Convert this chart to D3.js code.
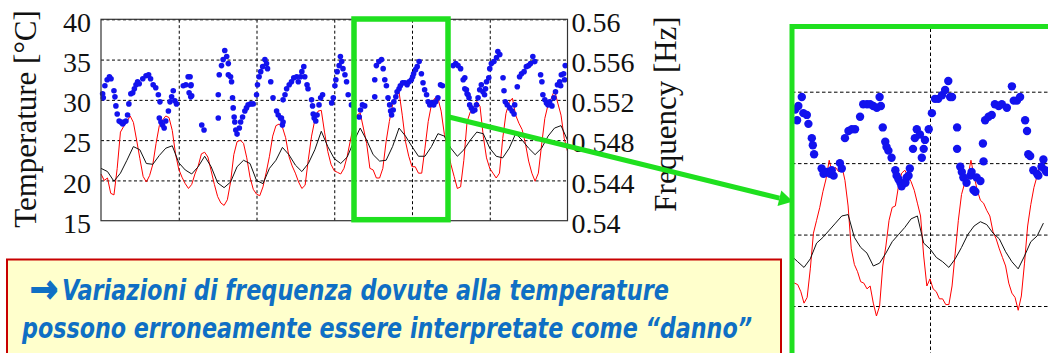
<!DOCTYPE html>
<html><head><meta charset="utf-8">
<script src="https://cdn.jsdelivr.net/npm/d3@7"></script>
<style>html,body{margin:0;padding:0;background:#fff;overflow:hidden}</style>
</head><body>
<svg id="c" width="1048" height="353"></svg>
<script>
// ---------- DATA (time in hours, 6 days shown) ----------
const dayTicks = [24, 48, 72, 96, 120];
const tempTicks = [15, 20, 25, 30, 35, 40];
const tempTickLabels = ["15", "20", "25", "30", "35", "40"];
const freqTicks = [0.54, 0.544, 0.548, 0.552, 0.556, 0.56];
const freqTickLabels = ["0.54", "0.544", "0.548", "0.552", "0.556", "0.56"];

// red: air temperature, one reading per hour from h=0
const redTemp = [
 20.8,20.0,20.3,18.4,18.2,21.5,26.0,26.7,27.3,28.0,
 27.2,25.0,22.7,20.5,19.8,20.6,22.0,24.6,26.8,27.5,
 28.0,27.8,26.2,23.3,21.4,20.4,19.6,19.0,19.5,20.8,
 21.8,23.3,23.5,22.9,21.2,19.5,18.0,17.2,16.9,17.6,
 19.8,23.2,24.8,25.0,24.6,22.8,20.4,18.9,18.3,18.1,
 19.2,21.0,23.0,25.5,26.8,27.0,26.6,25.3,23.0,21.8,
 20.9,19.8,19.0,19.4,22.6,25.5,27.5,28.6,28.7,26.0,
 23.6,22.0,21.2,21.0,20.8,21.5,23.0,25.0,26.9,28.1,
 28.4,26.5,24.6,21.5,21.3,20.3,20.3,21.5,24.8,27.3,
 29.4,30.4,31.0,28.1,24.8,23.0,21.7,21.7,20.9,20.9,
 24.0,27.3,29.4,30.2,30.2,28.6,25.7,24.0,22.0,20.5,
 19.0,19.2,22.5,27.3,28.5,29.0,29.8,29.2,25.5,22.8,
 21.5,20.9,20.3,20.9,25.2,28.3,29.7,30.2,28.1,27.1,
 26.3,24.6,22.4,20.9,19.9,20.9,24.4,27.7,29.4,30.2,
 31.2,29.6,28.1,25.2,23.6
];
// black: structure temperature, one reading every 2 hours from h=0
const blackTemp = [
 21.5,21.1,19.9,20.9,22.5,24.2,23.8,22.1,22.0,23.1,
 24.0,24.3,22.2,21.3,20.8,21.7,23.0,21.7,19.7,19.1,
 19.8,21.7,22.5,22.1,20.0,19.6,21.5,22.5,24.1,23.2,
 21.9,21.1,22.1,23.8,26.1,24.2,22.7,22.1,22.9,24.8,
 26.5,25.0,23.2,22.4,22.5,24.2,26.5,25.5,24.2,23.0,
 23.0,24.2,25.8,25.5,24.0,23.0,23.8,25.0,26.0,25.8,
 24.0,23.0,22.8,24.0,25.8,25.0,24.0,23.2,24.0,25.5,
 26.5,26.8,25.0
];
// blue: identified frequency [hour, Hz]
const freqPoints = [
 [0.5,0.5526],[0.7,0.5522],[1.2,0.5534],[1.9,0.5540],[2.6,0.5543],[3.1,0.5541],[4.0,0.5529],[4.3,0.5523],
 [4.6,0.5514],[5.0,0.5506],[5.6,0.5499],[6.1,0.5498],[6.7,0.5496],[7.1,0.5498],[7.7,0.5499],[8.2,0.5505],
 [8.6,0.5516],[9.2,0.5526],[9.8,0.5527],[10.3,0.5531],[10.8,0.5535],[11.3,0.5538],[11.8,0.5536],[12.9,0.5541],
 [13.9,0.5544],[14.7,0.5545],[15.3,0.5541],[16.1,0.5535],[16.9,0.5532],[17.7,0.5525],[18.2,0.5518],[18.0,0.5502],
 [18.5,0.5498],[19.0,0.5495],[19.5,0.5492],[20.0,0.5499],[20.8,0.5509],[21.3,0.5518],[21.8,0.5523],[22.3,0.5529],
 [22.8,0.5519],[23.3,0.5516],[25.4,0.5534],[26.2,0.5535],[26.9,0.5543],[27.7,0.5534],[27.2,0.5527],[28.0,0.5524],
 [27.5,0.5543],[27.8,0.5535],[27.7,0.5523],[31.1,0.5495],[31.8,0.5490],[36.2,0.5525],[36.2,0.5502],[36.5,0.5545],
 [37.2,0.5554],[37.7,0.5560],[38.2,0.5569],[38.8,0.5563],[39.3,0.5556],[39.3,0.5545],[40.0,0.5543],[40.3,0.5538],
 [40.6,0.5522],[40.8,0.5512],[41.1,0.5503],[41.3,0.5498],[41.6,0.5490],[42.0,0.5486],[42.7,0.5492],[43.1,0.5498],
 [43.7,0.5503],[44.4,0.5509],[44.9,0.5512],[45.4,0.5515],[46.2,0.5516],[47.0,0.5516],[48.0,0.5525],[48.3,0.5535],
 [48.8,0.5543],[49.3,0.5548],[49.9,0.5553],[50.6,0.5560],[51.1,0.5556],[51.4,0.5551],[52.4,0.5538],[53.1,0.5522],
 [54.2,0.5509],[54.7,0.5505],[55.4,0.5502],[56.2,0.5498],[55.7,0.5502],[56.0,0.5495],[56.2,0.5520],[56.8,0.5525],
 [57.3,0.5531],[58.1,0.5535],[58.8,0.5538],[59.5,0.5542],[60.4,0.5543],[60.9,0.5538],[61.6,0.5543],[62.0,0.5548],
 [62.6,0.5553],[62.9,0.5543],[63.6,0.5535],[63.9,0.5531],[65.0,0.5520],[65.3,0.5514],[65.5,0.5506],[65.8,0.5502],
 [66.3,0.5499],[66.7,0.5505],[67.3,0.5515],[67.8,0.5522],[68.4,0.5525],[71.2,0.5517],[71.7,0.5522],[72.2,0.5534],
 [72.5,0.5540],[72.9,0.5548],[73.5,0.5554],[73.9,0.5563],[74.3,0.5558],[74.7,0.5551],[75.3,0.5545],[75.8,0.5538],
 [76.3,0.5525],[77.3,0.5515],[79.7,0.5503],[80.1,0.5510],[80.7,0.5515],[81.4,0.5514],[84.5,0.5540],[85.0,0.5554],
 [85.8,0.5558],[86.6,0.5560],[87.1,0.5551],[84.5,0.5523],[87.6,0.5540],[88.1,0.5534],[88.6,0.5522],[89.1,0.5515],
 [89.4,0.5509],[89.7,0.5505],[90.2,0.5510],[90.4,0.5518],[91.0,0.5523],[91.4,0.5528],[92.0,0.5531],[92.4,0.5534],
 [93.1,0.5537],[93.8,0.5537],[94.5,0.5535],[95.1,0.5538],[95.8,0.5540],[96.2,0.5543],[96.5,0.5546],[97.1,0.5550],
 [97.6,0.5553],[98.2,0.5558],[98.9,0.5546],[99.4,0.5537],[99.9,0.5530],[100.5,0.5525],[101.0,0.5518],[101.5,0.5515],
 [102.0,0.5517],[102.7,0.5515],[103.3,0.5518],[104.0,0.5522],[104.8,0.5535],[105.4,0.5534],[108.7,0.5554],[109.5,0.5556],
 [110.2,0.5554],[111.0,0.5551],[111.8,0.5540],[112.3,0.5531],[113.0,0.5526],[113.6,0.5522],[112.3,0.5542],[112.8,0.5530],
 [113.3,0.5525],[113.8,0.5515],[114.3,0.5512],[114.8,0.5509],[115.4,0.5510],[115.9,0.5515],[116.4,0.5522],[116.9,0.5530],
 [117.4,0.5535],[117.9,0.5528],[118.4,0.5525],[118.7,0.5531],[119.0,0.5538],[119.7,0.5542],[120.0,0.5551],[120.5,0.5556],
 [121.3,0.5558],[122.1,0.5562],[122.5,0.5568],[123.1,0.5565],[124.1,0.5542],[124.4,0.5529],[124.8,0.5518],[125.4,0.5515],
 [126.2,0.5512],[126.9,0.5509],[127.5,0.5506],[127.7,0.5515],[128.5,0.5533],[129.2,0.5543],[129.8,0.5546],[130.6,0.5548],
 [131.3,0.5553],[132.0,0.5554],[132.6,0.5556],[133.3,0.5563],[133.9,0.5558],[135.7,0.5545],[136.1,0.5538],[136.4,0.5525],
 [137.0,0.5520],[137.5,0.5517],[138.0,0.5515],[138.5,0.5518],[139.2,0.5514],[139.8,0.5522],[140.3,0.5528],[140.9,0.5535],
 [141.6,0.5538],[142.1,0.5545],[142.8,0.5546],[143.3,0.5554],[143.1,0.5540],[141.9,0.5534]
];

// inset (magnified detail, hours 74 - 114.5)
const insetRedStart = 74, insetRedStep = 0.5;
const insetRedTemp = [
 21.6,21.6,21.5,21.0,20.2,20.6,22.6,25.1,26.0,26.9,
 28.0,28.9,30.2,29.3,29.7,29.4,29.8,28.8,27.0,24.0,
 22.9,22.4,21.7,21.6,21.2,21.4,20.2,19.3,20.0,22.8,
 24.2,26.0,26.9,27.0,28.4,29.3,29.5,29.1,28.7,28.1,
 27.2,26.3,23.5,21.4,21.9,21.2,21.0,20.5,20.5,20.1,
 20.1,21.4,23.7,26.0,27.8,28.6,29.0,30.2,29.1,28.1,
 27.4,27.2,26.7,26.3,25.2,24.7,24.0,23.4,22.8,21.6,
 20.9,20.6,19.7,20.7,23.0,25.6,27.1,28.3,29.1,30.0,
 29.8,29.7
];
const insetBlackStart = 74, insetBlackStep = 1;
const insetBlackTemp = [
 23.5,23.1,22.7,23.3,24.4,24.8,25.3,25.8,26.3,26.4,
 24.8,24.1,23.7,22.8,23.0,23.7,24.5,25.0,25.5,26.1,
 26.3,24.4,24.0,23.4,23.1,22.7,23.3,24.1,25.0,25.6,
 25.9,25.7,25.1,24.7,23.8,23.1,22.6,23.5,24.5,24.9,
 25.8
];
const insetFreqPoints = [
 [74.6,0.5550],[74.9,0.5544],[75.1,0.5552],[75.65,0.5557],[75.9,0.5548],[76.45,0.5547],[76.7,0.5542],[77.24,0.5534],
 [77.4,0.5530],[77.6,0.5525],[78.8,0.5517],[79.1,0.5514],[79.6,0.5515],[80.15,0.5514],[80.7,0.5513],[80.4,0.5516],
 [81.7,0.5520],[82.0,0.5517],[82.5,0.5534],[83.06,0.5538],[83.6,0.5539],[84.1,0.5539],[84.9,0.5546],[85.4,0.5553],
 [86.0,0.5553],[86.5,0.5553],[87.0,0.5552],[87.56,0.5551],[88.0,0.5557],[88.2,0.5552],[88.5,0.5540],[88.9,0.5532],
 [89.1,0.5529],[89.4,0.5527],[89.9,0.5523],[90.5,0.5516],[90.7,0.5513],[91.0,0.5511],[91.3,0.5509],[91.5,0.5507],
 [92.1,0.5509],[92.3,0.5512],[92.6,0.5513],[92.8,0.5517],[93.3,0.5528],[93.6,0.5534],[93.9,0.5539],[94.4,0.5536],
 [94.7,0.5523],[95.0,0.5528],[95.2,0.5533],[95.8,0.5539],[96.3,0.5548],[96.8,0.5556],[97.3,0.5556],[97.9,0.5558],
 [98.4,0.5561],[98.9,0.5566],[99.2,0.5557],[99.5,0.5557],[100.3,0.5540],[100.3,0.5528],[100.8,0.5518],[101.05,0.5515],
 [101.3,0.5512],[101.8,0.5509],[102.4,0.5513],[102.6,0.5515],[102.9,0.5505],[103.2,0.5504],[103.4,0.5512],[104.0,0.5510],
 [104.4,0.5531],[104.5,0.5521],[104.75,0.5544],[105.3,0.5546],[105.8,0.5547],[106.3,0.5553],[106.9,0.5552],[107.4,0.5553],
 [108.2,0.5551],[109.0,0.5563],[109.3,0.5555],[109.8,0.5555],[110.3,0.5557],[111.1,0.5544],[111.4,0.5538],[111.6,0.5525],
 [111.9,0.5524],[112.4,0.5516],[113.0,0.5514],[113.2,0.5513],[113.7,0.5518],[114.0,0.5522],[114.3,0.5516],[114.5,0.5515]
];
const insetGridTemps = [20, 25, 30, 35];
const insetGridHours = [96];
const noteLine1 = "Variazioni di frequenza dovute alla temperature";
const noteLine2 = "possono erroneamente essere interpretate come \u201Cdanno\u201D";

// ---------- DRAWING ----------
const svg = d3.select("#c");
const GREEN = "#1fe01f", RED = "#ff0000", BLUE = "#1212ee";
const X0 = 101, X1 = 567.5, YT = 19.3, YB = 220.7;
const x = d3.scaleLinear().domain([0, 144]).range([X0, X1]);
const yT = d3.scaleLinear().domain([15, 40]).range([YB, YT]);
const yF = d3.scaleLinear().domain([0.54, 0.56]).range([YB, YT]);

// grid
const gx = svg.append("g").attr("transform", `translate(0,${YB})`)
  .call(d3.axisBottom(x).tickValues(dayTicks).tickSize(-(YB - YT)).tickFormat(""));
const gy = svg.append("g").attr("transform", `translate(${X0},0)`)
  .call(d3.axisLeft(yT).tickValues(tempTicks.slice(1)).tickSize(-(X1 - X0)).tickFormat(""));
[gx, gy].forEach(g => {
  g.select(".domain").remove();
  g.selectAll("line").attr("stroke", "#000").attr("stroke-width", 1).attr("stroke-dasharray", "3,2.5");
});

// lines
const redLine = d3.line().x((d, i) => x(i)).y(d => yT(d));
svg.append("path").datum(redTemp).attr("d", redLine)
  .attr("fill", "none").attr("stroke", RED).attr("stroke-width", 1);
const blackLine = d3.line().x((d, i) => x(i * 2)).y(d => yT(d));
svg.append("path").datum(blackTemp).attr("d", blackLine)
  .attr("fill", "none").attr("stroke", "#111").attr("stroke-width", 1);
svg.append("g").selectAll("circle").data(freqPoints).join("circle")
  .attr("cx", d => x(d[0])).attr("cy", d => yF(d[1])).attr("r", 2.8).attr("fill", BLUE);

// frame
svg.append("rect").attr("x", X0).attr("y", YT).attr("width", X1 - X0).attr("height", YB - YT)
  .attr("fill", "none").attr("stroke", "#333").attr("stroke-width", 1.2);

// axes labels
const serif = "'Liberation Serif','Times New Roman',serif";
const al = svg.append("g").attr("transform", `translate(${X0},0)`)
  .call(d3.axisLeft(yT).tickValues(tempTicks).tickFormat((d, i) => tempTickLabels[i]).tickSize(0).tickPadding(10));
const ar = svg.append("g").attr("transform", `translate(${X1},0)`)
  .call(d3.axisRight(yF).tickValues(freqTicks).tickFormat((d, i) => freqTickLabels[i]).tickSize(0).tickPadding(4));
[al, ar].forEach(g => {
  g.select(".domain").remove();
  g.selectAll("text").attr("font-family", serif).attr("font-size", 28).attr("fill", "#111").attr("dy", "0.42em");
});
svg.append("text").attr("transform", "translate(36,119) rotate(-90)").attr("text-anchor", "middle")
  .attr("font-family", serif).attr("font-size", 31).attr("fill", "#111").text("Temperature [\u00B0C]");
svg.append("text").attr("transform", "translate(676,114) rotate(-90)").attr("text-anchor", "middle")
  .attr("font-family", serif).attr("font-size", 31).attr("fill", "#111").text("Frequency [Hz]");

// green selection box
svg.append("rect").attr("x", 354).attr("y", 19).attr("width", 94).attr("height", 200.7)
  .attr("fill", "none").attr("stroke", GREEN).attr("stroke-width", 5.5);

// ---------- INSET ----------
const xI = d3.scaleLinear().domain([72, 120]).range([930 - 24 * 6.3, 930 + 24 * 6.3]);
const yIT = d3.scaleLinear().domain([20, 35]).range([306, 91.7]);
const yIF = d3.scaleLinear().domain([0.544, 0.556]).range([306, 91.7]);
const defs = svg.append("defs");
defs.append("clipPath").attr("id", "ic").append("rect").attr("x", 792).attr("y", 26).attr("width", 260).attr("height", 330);
const inset = svg.append("g").attr("clip-path", "url(#ic)");
inset.append("rect").attr("x", 792).attr("y", 26).attr("width", 260).attr("height", 330).attr("fill", "#fff");
const igy = inset.append("g").attr("transform", "translate(792,0)")
  .call(d3.axisLeft(yIT).tickValues(insetGridTemps).tickSize(-260).tickFormat(""));
const igx = inset.append("g").attr("transform", "translate(0,356)")
  .call(d3.axisBottom(xI).tickValues(insetGridHours).tickSize(-330).tickFormat(""));
[igx, igy].forEach(g => {
  g.select(".domain").remove();
  g.selectAll("line").attr("stroke", "#000").attr("stroke-width", 1).attr("stroke-dasharray", "3.5,2.5");
});
inset.append("path").datum(insetRedTemp)
  .attr("d", d3.line().x((d, i) => xI(insetRedStart + i * insetRedStep)).y(d => yIT(d)))
  .attr("fill", "none").attr("stroke", RED).attr("stroke-width", 1);
inset.append("path").datum(insetBlackTemp)
  .attr("d", d3.line().x((d, i) => xI(insetBlackStart + i * insetBlackStep)).y(d => yIT(d)))
  .attr("fill", "none").attr("stroke", "#111").attr("stroke-width", 1);
inset.append("g").selectAll("circle").data(insetFreqPoints).join("circle")
  .attr("cx", d => xI(d[0])).attr("cy", d => yIF(d[1])).attr("r", 4.2).attr("fill", BLUE);
svg.append("rect").attr("x", 792).attr("y", 26.5).attr("width", 300).attr("height", 400)
  .attr("fill", "none").attr("stroke", GREEN).attr("stroke-width", 5);

// connector arrow
const p0 = [448, 116.7], tip = [793, 201.5];
const dx = tip[0] - p0[0], dyy = tip[1] - p0[1], L = Math.hypot(dx, dyy);
const ux = dx / L, uy = dyy / L, px = -uy, py = ux;
const headL = 14, headW = 8;
const base = [tip[0] - ux * headL, tip[1] - uy * headL];
svg.append("line").attr("x1", p0[0]).attr("y1", p0[1]).attr("x2", base[0]).attr("y2", base[1])
  .attr("stroke", GREEN).attr("stroke-width", 5);
svg.append("path").attr("d", `M${tip[0]},${tip[1]} L${base[0] + px * headW},${base[1] + py * headW} L${base[0] - px * headW},${base[1] - py * headW} Z`)
  .attr("fill", GREEN);

// ---------- NOTE BOX ----------
svg.append("rect").attr("x", 7).attr("y", 259.5).attr("width", 774).attr("height", 100)
  .attr("fill", "#ffffcc").attr("stroke", "#c80000").attr("stroke-width", 2);
const sans = "'Liberation Sans Narrow','DejaVu Sans Condensed',Lato,'Liberation Sans',sans-serif";
const BLUE_T = "#0f6fc4";
svg.append("text").attr("x", 30).attr("y", 302).attr("font-family", "'DejaVu Sans',sans-serif")
  .attr("font-size", 38).attr("font-weight", "bold").attr("fill", BLUE_T)
  .attr("stroke", BLUE_T).attr("stroke-width", 1.6)
  .attr("textLength", 28).attr("lengthAdjust", "spacingAndGlyphs").text("\u2192");
svg.append("text").attr("x", 62).attr("y", 300).attr("font-family", sans).attr("font-size", 28)
  .attr("font-weight", "bold").attr("font-style", "italic").attr("fill", BLUE_T)
  .attr("textLength", 607).attr("lengthAdjust", "spacingAndGlyphs").text(noteLine1);
svg.append("text").attr("x", 22).attr("y", 338).attr("font-family", sans).attr("font-size", 28)
  .attr("font-weight", "bold").attr("font-style", "italic").attr("fill", BLUE_T)
  .attr("textLength", 730).attr("lengthAdjust", "spacingAndGlyphs").text(noteLine2);
</script>
</body></html>
